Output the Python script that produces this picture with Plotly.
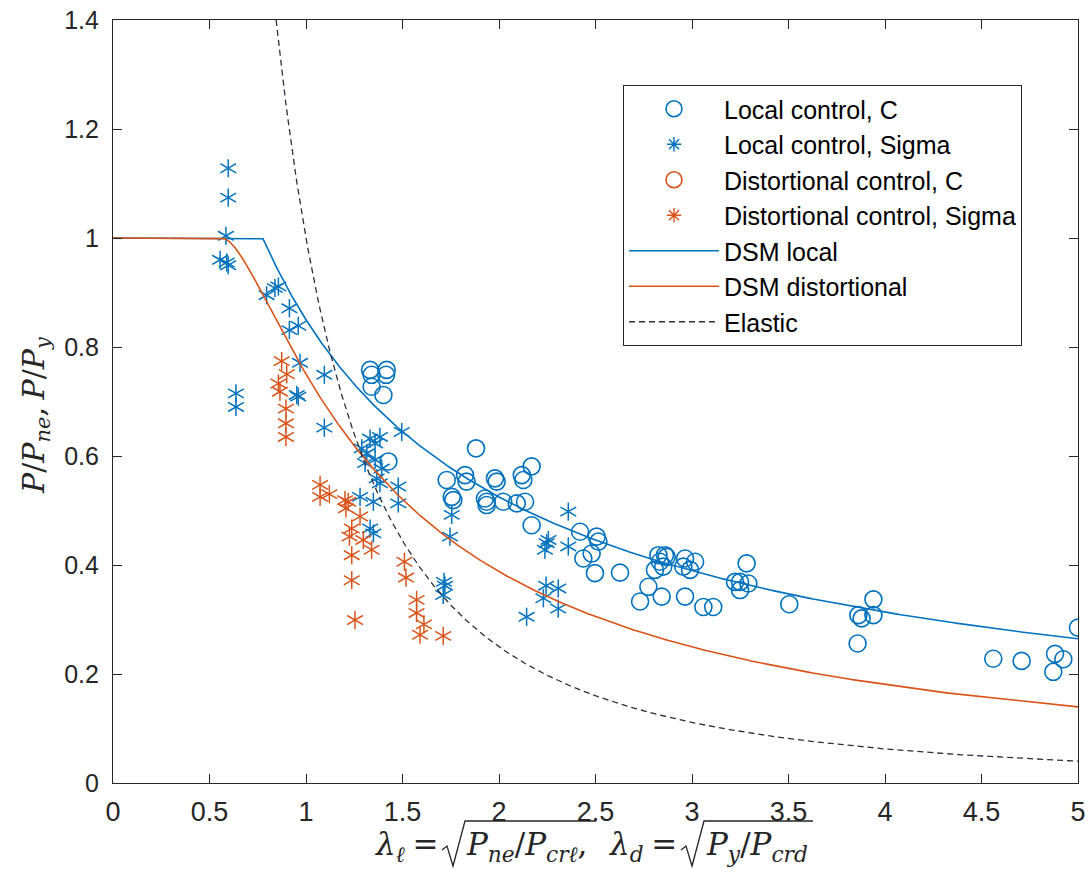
import numpy as np
import plotly.graph_objects as go

# ---- Test results: slenderness (lambda) and normalised capacity ----
local_c_lambda = [1.332, 1.340, 1.418, 1.415, 1.340, 1.401, 1.427,
                  1.881, 1.729, 1.824, 1.832, 1.755, 1.763, 1.979, 1.988,
                  1.927, 1.936, 1.936, 2.022, 2.092, 2.135, 2.118, 2.126,
                  2.169, 2.169, 2.420, 2.506, 2.515, 2.437, 2.480, 2.497,
                  2.627, 2.826, 2.860, 2.869, 2.834, 2.808, 2.851, 2.774,
                  2.731, 2.843, 2.964, 3.016, 2.955, 2.990, 2.964, 3.059,
                  3.110, 3.283, 3.223, 3.249, 3.292, 3.249, 3.504, 3.940,
                  3.862, 3.879, 3.940, 3.858, 4.561, 4.708, 4.881, 4.924,
                  4.872, 5.000]
local_c_ratio = [0.758, 0.749, 0.758, 0.749, 0.727, 0.712, 0.590,
                 0.614, 0.556, 0.565, 0.553, 0.525, 0.519, 0.559, 0.553,
                 0.522, 0.516, 0.510, 0.516, 0.513, 0.516, 0.565, 0.556,
                 0.581, 0.473, 0.461, 0.452, 0.443, 0.412, 0.421, 0.385,
                 0.386, 0.418, 0.418, 0.415, 0.406, 0.391, 0.397, 0.360,
                 0.333, 0.342, 0.412, 0.406, 0.397, 0.391, 0.342, 0.323,
                 0.323, 0.403, 0.369, 0.369, 0.366, 0.354, 0.328, 0.337,
                 0.308, 0.302, 0.308, 0.256, 0.228, 0.224, 0.237, 0.227,
                 0.204, 0.285]

local_s_lambda = [0.597, 0.597, 0.585, 0.555, 0.589, 0.597,
                  0.796, 0.839, 0.857, 0.914, 0.914, 0.960, 0.969, 1.095,
                  0.952, 0.960, 0.637, 0.637, 1.095, 1.496,
                  1.332, 1.383, 1.358, 1.289, 1.315, 1.358, 1.306, 1.392,
                  1.366, 1.383, 1.478, 1.280, 1.349, 1.478, 1.332, 1.349,
                  1.755, 1.746, 1.715, 1.720, 1.711, 2.359, 2.256, 2.247,
                  2.238, 2.359, 2.244, 2.307, 2.230, 2.307, 2.143]
local_s_ratio = [1.128, 1.074, 1.004, 0.960, 0.955, 0.950,
                 0.895, 0.908, 0.911, 0.871, 0.831, 0.839, 0.771, 0.749,
                 0.712, 0.709, 0.715, 0.690, 0.652, 0.644,
                 0.632, 0.635, 0.623, 0.614, 0.605, 0.593, 0.587, 0.577,
                 0.559, 0.550, 0.544, 0.525, 0.516, 0.513, 0.467, 0.458,
                 0.492, 0.452, 0.369, 0.362, 0.345, 0.498, 0.446, 0.440,
                 0.428, 0.434, 0.362, 0.357, 0.339, 0.320, 0.305]

dist_c_lambda = []
dist_c_ratio = []

dist_s_lambda = [0.874, 0.900, 0.857, 0.865, 0.896, 0.896, 0.896,
                 1.073, 1.073, 1.121, 1.202, 1.219, 1.207, 1.280, 1.237,
                 1.225, 1.297, 1.340, 1.237, 1.237, 1.254,
                 1.510, 1.518, 1.573, 1.573, 1.611, 1.591, 1.711]
dist_s_ratio = [0.774, 0.750, 0.733, 0.718, 0.687, 0.660, 0.635,
                0.547, 0.525, 0.530, 0.519, 0.516, 0.504, 0.489, 0.467,
                0.452, 0.446, 0.428, 0.418, 0.372, 0.299,
                0.406, 0.377, 0.336, 0.312, 0.291, 0.272, 0.270]

x_tick_vals = [0, 0.5, 1, 1.5, 2, 2.5, 3, 3.5, 4, 4.5, 5]
x_tick_text = ["0", "0.5", "1", "1.5", "2", "2.5", "3", "3.5", "4", "4.5", "5"]
y_tick_vals = [0, 0.2, 0.4, 0.6, 0.8, 1.0, 1.2, 1.4]
y_tick_text = ["0", "0.2", "0.4", "0.6", "0.8", "1", "1.2", "1.4"]

BLUE = "#0072BD"
ORANGE = "#D95319"
DARK = "#2E2E3A"
AXIS = "#262626"

W, H = 1090, 878
ML, MR, MT, MB = 113, 12, 20, 95

# ---- Direct Strength Method design curves ----
lam = np.linspace(0.0, 5.0, 2001)


def dsm_local(l):
    l = np.asarray(l, dtype=float)
    out = np.ones_like(l)
    m = l > 0.776
    lm = l[m] ** 0.8
    out[m] = (1 - 0.15 / lm) / lm
    return out


def dsm_distortional(l):
    l = np.asarray(l, dtype=float)
    out = np.ones_like(l)
    m = l > 0.561
    lm = l[m] ** 1.2
    out[m] = (1 - 0.25 / lm) / lm
    return out


lam_el = np.linspace(np.sqrt(1 / 1.4), 5.0, 1001)
elastic = 1 / lam_el ** 2

fig = go.Figure()


def add_circles(xs, ys, color, name):
    fig.add_trace(go.Scatter(
        x=xs if xs else [None], y=ys if ys else [None], mode="markers", name=name,
        marker=dict(symbol="circle-open", size=17, color=color,
                    line=dict(width=1.6, color=color)),
        legendgroup=name))


def add_stars(xs, ys, color, name):
    # six-armed asterisk built from three rotated line markers
    for ang in (0, 60, -60):
        fig.add_trace(go.Scatter(
            x=xs, y=ys, mode="markers", showlegend=False, legendgroup=name,
            hoverinfo="skip" if ang else None,
            marker=dict(symbol="line-ns-open", size=13, angle=ang, color=color,
                        line=dict(width=1.5, color=color))))
    fig.add_trace(go.Scatter(
        x=[None], y=[None], mode="markers", name=name, legendgroup=name,
        marker=dict(symbol="asterisk-open", size=12, color=color,
                    line=dict(width=1.4, color=color))))


add_circles(local_c_lambda, local_c_ratio, BLUE, "Local control, C")
add_stars(local_s_lambda, local_s_ratio, BLUE, "Local control, Sigma")
add_circles(dist_c_lambda, dist_c_ratio, ORANGE, "Distortional control, C")
add_stars(dist_s_lambda, dist_s_ratio, ORANGE, "Distortional control, Sigma")

fig.add_trace(go.Scatter(x=lam, y=dsm_local(lam), mode="lines", name="DSM local",
                         line=dict(color=BLUE, width=1.6), legendgroup="DSM local"))
fig.add_trace(go.Scatter(x=lam, y=dsm_distortional(lam), mode="lines",
                         name="DSM distortional", legendgroup="DSM distortional",
                         line=dict(color=ORANGE, width=1.6)))
fig.add_trace(go.Scatter(x=lam_el, y=elastic, mode="lines", name="Elastic",
                         legendgroup="Elastic",
                         line=dict(color=DARK, width=1.3, dash="6px,4px")))

axis_common = dict(showgrid=False, zeroline=False, showline=True, linecolor=AXIS,
                   linewidth=1.2, mirror="ticks", ticks="inside", ticklen=9,
                   tickwidth=1, tickcolor=AXIS, automargin=False)

fig.update_xaxes(range=[0, 5], tickvals=x_tick_vals, ticktext=x_tick_text,
                 tickfont=dict(family="Liberation Sans, Arial", size=27, color=AXIS),
                 ticklabelstandoff=4, **axis_common)
fig.update_yaxes(range=[0, 1.4], tickvals=y_tick_vals, ticktext=y_tick_text,
                 tickfont=dict(family="Liberation Sans, Arial", size=25, color=AXIS),
                 ticklabelstandoff=8, **axis_common)


# ---- axis titles (math-style, serif italic) ----
def px_x(p):
    return (p - ML) / (W - ML - MR)


def px_y(p):
    return (H - MB - p) / (H - MT - MB)


serif = dict(family="DejaVu Serif, Liberation Serif, serif", size=31, color=AXIS)
SP = "\u2005"
title_y = 846

x_title_parts = [
    ("<i>λ</i><sub><i>ℓ</i></sub>" + SP + "=", 440, "right"),
    ("<i>P</i><sub><i>ne</i></sub>/<i>P</i><sub><i>crℓ</i></sub>,", 464, "left"),
    ("<i>λ</i><sub><i>d</i></sub>" + SP + "=", 679, "right"),
    ("<i>P</i><sub><i>y</i></sub>/<i>P</i><sub><i>crd</i></sub>", 704, "left"),
]
for txt, xp, anchor in x_title_parts:
    fig.add_annotation(text=txt, xref="paper", yref="paper", x=px_x(xp),
                       y=px_y(title_y), xanchor=anchor, yanchor="middle",
                       showarrow=False, font=serif)

# radical signs over the square-root arguments
for x0, x_end in ((442, 596), (681, 813)):
    pts = [(x0, 850), (x0 + 5, 846), (x0 + 11, 866), (x0 + 23, 821), (x_end, 821)]
    path = "M " + " L ".join(f"{px_x(a):.5f},{px_y(b):.5f}" for a, b in pts)
    fig.add_shape(type="path", path=path, xref="paper", yref="paper",
                  line=dict(color=AXIS, width=1.3))

y_title = ("<i>P</i>/<i>P</i><sub><i>ne</i></sub>," + SP
           + "<i>P</i>/<i>P</i><sub><i>y</i></sub>")
fig.add_annotation(text=y_title, xref="paper", yref="paper", x=px_x(35), y=px_y(415),
                   xanchor="center", yanchor="middle", showarrow=False,
                   textangle=-90, font=dict(serif, size=30))

fig.update_layout(
    width=W, height=H,
    margin=dict(l=ML, r=MR, t=MT, b=MB),
    paper_bgcolor="white", plot_bgcolor="white",
    font=dict(family="Liberation Sans, Arial", color=AXIS),
    showlegend=True,
    legend=dict(x=px_x(623), y=px_y(85), xanchor="left", yanchor="top",
                bgcolor="white", bordercolor=AXIS, borderwidth=1,
                font=dict(family="Liberation Sans, Arial", size=25, color="black"),
                itemwidth=90, traceorder="grouped", tracegroupgap=0,
                entrywidth=320, entrywidthmode="pixels"),
)

fig.write_html("out.html")
